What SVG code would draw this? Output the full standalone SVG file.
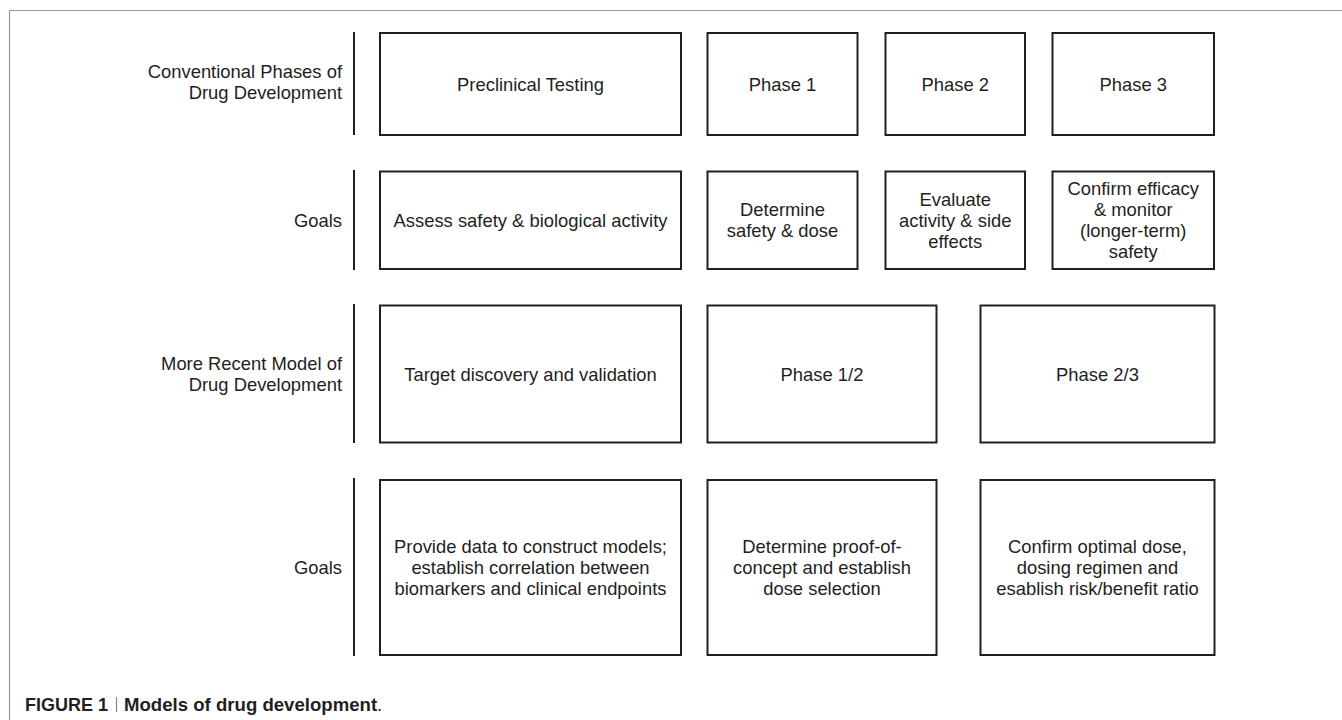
<svg xmlns="http://www.w3.org/2000/svg" width="1342" height="720" viewBox="0 0 1342 720">
<style>
.box{fill:#fff;stroke:#231f20;stroke-width:2}
.bar{stroke:#231f20;stroke-width:2}
text{font-family:"Liberation Sans",Arial,sans-serif;font-size:18.4px;fill:#231f20}
.c{text-anchor:middle}
.r{text-anchor:end}
.cap{font-weight:bold}
#caption text{font-size:18.6px}
#caption text.fig{font-size:18px}
</style>
<rect width="1342" height="720" fill="#fff"/>
<g id="frame">
<line x1="9.5" y1="10.5" x2="1342" y2="10.5" stroke="#999" stroke-width="1.2"/>
<line x1="9.5" y1="10.5" x2="9.5" y2="720" stroke="#999" stroke-width="1.2"/>
</g>
<g id="row-labels">
<g id="label-conventional">
<line class="bar" x1="354" y1="32" x2="354" y2="135"/>
<text class="r" x="342" y="78">Conventional Phases of</text>
<text class="r" x="342" y="99">Drug Development</text>
</g>
<g id="label-goals1">
<line class="bar" x1="354" y1="170" x2="354" y2="270"/>
<text class="r" x="342" y="226.5">Goals</text>
</g>
<g id="label-recent">
<line class="bar" x1="354" y1="304" x2="354" y2="443"/>
<text class="r" x="342" y="369.5">More Recent Model of</text>
<text class="r" x="342" y="390.5">Drug Development</text>
</g>
<g id="label-goals2">
<line class="bar" x1="354" y1="478" x2="354" y2="656"/>
<text class="r" x="342" y="574">Goals</text>
</g>
</g>
<g id="connectors"></g>
<g id="preclinical"><rect class="box" x="380" y="33" width="301" height="102"/><text class="c" x="530.5" y="90.5">Preclinical Testing</text></g>
<g id="phase1"><rect class="box" x="707.5" y="33" width="150" height="102"/><text class="c" x="782.5" y="90.5">Phase 1</text></g>
<g id="phase2"><rect class="box" x="885.5" y="33" width="139.5" height="102"/><text class="c" x="955.25" y="90.5">Phase 2</text></g>
<g id="phase3"><rect class="box" x="1052.5" y="33" width="161.5" height="102"/><text class="c" x="1133.25" y="90.5">Phase 3</text></g>
<g id="goal-preclinical"><rect class="box" x="380" y="171.5" width="301" height="97.5"/><text class="c" x="530.5" y="226.7">Assess safety &amp; biological activity</text></g>
<g id="goal-phase1"><rect class="box" x="707.5" y="171.5" width="150" height="97.5"/><text class="c" x="782.5" y="216">Determine</text><text class="c" x="782.5" y="237">safety &amp; dose</text></g>
<g id="goal-phase2"><rect class="box" x="885.5" y="171.5" width="139.5" height="97.5"/><text class="c" x="955.25" y="205.7">Evaluate</text><text class="c" x="955.25" y="226.7">activity &amp; side</text><text class="c" x="955.25" y="247.7">effects</text></g>
<g id="goal-phase3"><rect class="box" x="1052.5" y="171.5" width="161.5" height="97.5"/><text class="c" x="1133.25" y="195.2">Confirm efficacy</text><text class="c" x="1133.25" y="216.2">&amp; monitor</text><text class="c" x="1133.25" y="237.2">(longer-term)</text><text class="c" x="1133.25" y="258.2">safety</text></g>
<g id="target"><rect class="box" x="380" y="305.5" width="301" height="137"/><text class="c" x="530.5" y="380.5">Target discovery and validation</text></g>
<g id="phase12"><rect class="box" x="707.5" y="305.5" width="229" height="137"/><text class="c" x="822" y="380.5">Phase 1/2</text></g>
<g id="phase23"><rect class="box" x="980.5" y="305.5" width="234" height="137"/><text class="c" x="1097.5" y="380.5">Phase 2/3</text></g>
<g id="goal-target"><rect class="box" x="380" y="480" width="301" height="175"/><text class="c" x="530.5" y="552.9">Provide data to construct models;</text><text class="c" x="530.5" y="573.9">establish correlation between</text><text class="c" x="530.5" y="594.9">biomarkers and clinical endpoints</text></g>
<g id="goal-phase12"><rect class="box" x="707.5" y="480" width="229" height="175"/><text class="c" x="822" y="552.9">Determine proof-of-</text><text class="c" x="822" y="573.9">concept and establish</text><text class="c" x="822" y="594.9">dose selection</text></g>
<g id="goal-phase23"><rect class="box" x="980.5" y="480" width="234" height="175"/><text class="c" x="1097.5" y="552.9">Confirm optimal dose,</text><text class="c" x="1097.5" y="573.9">dosing regimen and</text><text class="c" x="1097.5" y="594.9">esablish risk/benefit ratio</text></g>
<g id="caption">
<text x="25" y="710.5" class="cap fig">FIGURE 1</text>
<line x1="116.5" y1="697" x2="116.5" y2="712" stroke="#888" stroke-width="1.2"/>
<text x="124" y="710.5"><tspan class="cap">Models of drug development</tspan>.</text>
</g>
</svg>
